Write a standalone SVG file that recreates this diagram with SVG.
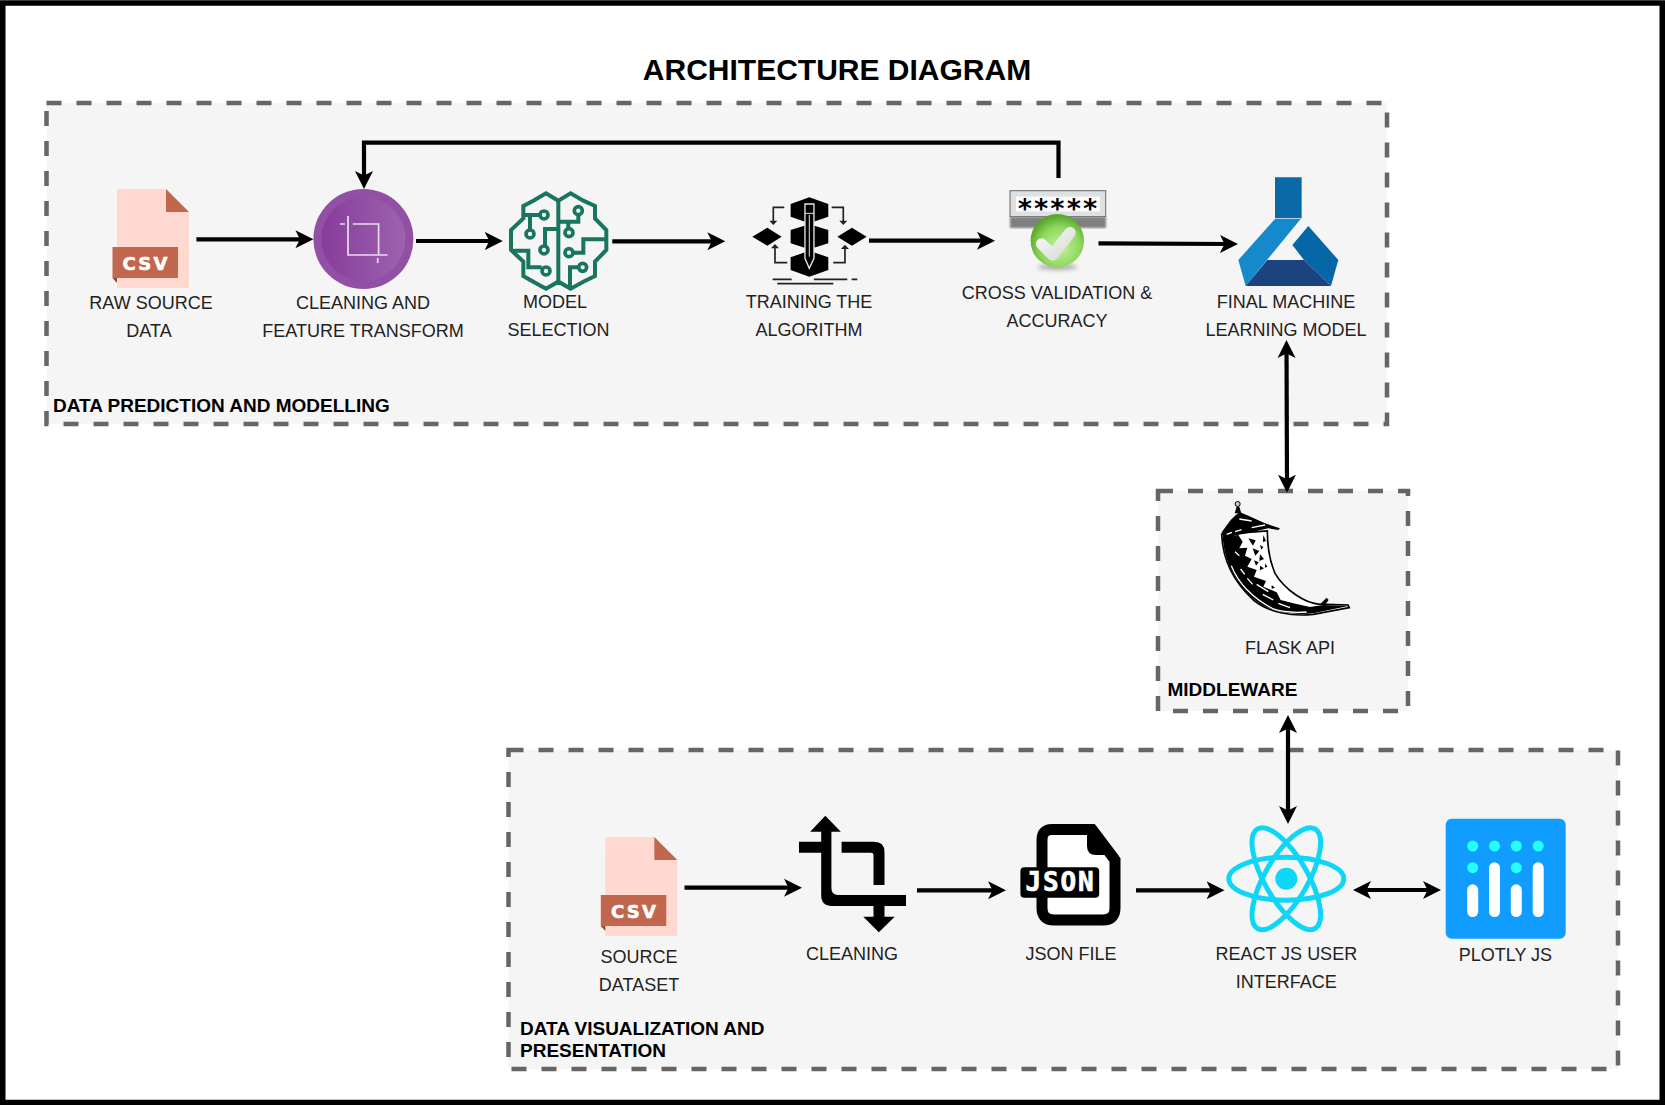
<svg xmlns="http://www.w3.org/2000/svg" width="1665" height="1105" viewBox="0 0 1665 1105">
<style>
.box{fill:#f5f5f5;stroke:#666;stroke-width:4.5;stroke-dasharray:15 15}
.lb{font-family:"Liberation Sans",Arial,sans-serif;font-size:18px;fill:#222;text-anchor:middle}
.hd{font-family:"Liberation Sans",Arial,sans-serif;font-size:19px;font-weight:bold;fill:#000}
.cn{fill:none;stroke:#000;stroke-width:4.2;marker-end:url(#ah)}
.bi{marker-start:url(#ah)}
.csvt{font-family:"DejaVu Sans",sans-serif;font-size:18px;font-weight:bold;fill:#fff;stroke:#fff;stroke-width:.6;text-anchor:middle;letter-spacing:2.2px}
.br{fill:none;stroke:#1a7560;stroke-width:12;stroke-linejoin:miter}
.nd{fill:#f5f5f5;stroke:#1a7560;stroke-width:11}
.thin{fill:none;stroke:#222;stroke-width:5}
.rk{fill:none;stroke:#0dd6f7;stroke-width:5}
.dot{fill:#25fefd}
.bar{fill:#fff}
</style>
<defs>
<marker id="ah" viewBox="0 0 20 20" markerWidth="20" markerHeight="20" refX="12" refY="10" markerUnits="userSpaceOnUse" orient="auto-start-reverse"><path d="M0 1L18 10L0 19L4.5 10Z" fill="#000"/></marker>
<g id="csvdoc">
<path d="M117 189H166L189 212V288H117Z" fill="#ffd9d0"/>
<path d="M166 189L189 212H166Z" fill="#c1674e"/>
<path d="M112.5 278L117 283V278Z" fill="#8c4a38"/>
<rect x="112.5" y="247" width="65.5" height="31" fill="#c1674e"/>
</g>
<radialGradient id="ball" cx="55%" cy="62%" r="58%"><stop offset="0" stop-color="#c4f2a0"/><stop offset=".65" stop-color="#8fd85f"/><stop offset="1" stop-color="#5aa92e"/></radialGradient>
<linearGradient id="purp" x1="0" x2="1"><stop offset="0" stop-color="#873c9a"/><stop offset="1" stop-color="#9e62af"/></linearGradient>
<linearGradient id="chk" x1="0" x2="1" y1="0" y2="1"><stop offset="0" stop-color="#f6f6f6"/><stop offset="1" stop-color="#d9ddd6"/></linearGradient>
<filter id="bl" x="-30%" y="-60%" width="160%" height="220%"><feGaussianBlur stdDeviation="2.2"/></filter>
<filter id="sf" x="-5%" y="-5%" width="110%" height="110%"><feGaussianBlur stdDeviation="1"/></filter>
</defs>
<rect width="1665" height="1105" fill="#fff"/>
<rect x="2.75" y="3" width="1659.5" height="1099.5" fill="none" stroke="#000" stroke-width="5.5"/>
<text id="title" x="837" y="80" font-family="'Liberation Sans',Arial,sans-serif" font-size="30" font-weight="bold" text-anchor="middle" fill="#000">ARCHITECTURE DIAGRAM</text>

<g id="box-modelling"><rect class="box" x="46.5" y="103" width="1340.5" height="321"/><text class="hd" x="53" y="412">DATA PREDICTION AND MODELLING</text></g>
<g id="box-middleware"><rect class="box" x="1158" y="491" width="250" height="220"/><text class="hd" x="1167.5" y="696">MIDDLEWARE</text></g>
<g id="box-visualization"><rect class="box" x="508.5" y="750" width="1109.5" height="319"/><text class="hd" x="520" y="1035">DATA VISUALIZATION AND</text><text class="hd" x="520" y="1057">PRESENTATION</text></g>

<g id="raw-source"><use href="#csvdoc"/><text class="csvt" x="146" y="269.5">CSV</text><text class="lb" x="151" y="309">RAW SOURCE</text><text class="lb" x="149" y="337">DATA</text></g>

<g id="cleaning-transform">
<circle cx="363.4" cy="239" r="50" fill="#9250a5"/><circle cx="363.4" cy="239" r="42" fill="url(#purp)"/>
<path d="M348 216V255H387.5M340 224H345M352.7 224H378.6V255M377.7 258V263" fill="none" stroke="#eadcf0" stroke-width="1.7"/>
<text class="lb" x="363" y="309">CLEANING AND</text><text class="lb" x="363" y="337">FEATURE TRANSFORM</text></g>

<g id="model-selection">
<g transform="translate(490 180) scale(.3333)">
<path class="br" d="M205 62L168 40L130 62L100 78V115L63 150V210L100 245V288L130 305L168 326L205 305L242 326L280 305L315 288V245L349 210V150L315 115V78L280 62L242 40Z"/>
<path class="br" d="M205 62V305M100 105H150M120 105V150M205 147H165V198M63 212H115V262H155M205 125H265V105M235 125V146M349 178H280V218H250M240 320V262H265"/>
<circle class="nd" cx="162" cy="105" r="12"/><circle class="nd" cx="120" cy="162" r="12"/><circle class="nd" cx="162" cy="210" r="12"/><circle class="nd" cx="168" cy="273" r="12"/><circle class="nd" cx="265" cy="92" r="12"/><circle class="nd" cx="237" cy="158" r="12"/><circle class="nd" cx="237" cy="218" r="12"/><circle class="nd" cx="278" cy="262" r="12"/>
</g>
<text class="lb" x="555" y="308">MODEL</text><text class="lb" x="558.5" y="336">SELECTION</text></g>

<g id="training">
<g transform="translate(490 180) scale(.3333)">
<path d="M958 52L1015 72V110L958 130L902 110V72ZM958 133L1015 150V190L958 208L902 190V150ZM958 212L1015 232V270L958 290L902 270V232ZM787 170L832 143L875 170L832 197ZM1042 170L1086 143L1130 170L1086 197Z" fill="#000"/>
<path d="M945 72H972V235L958 265L945 235Z" fill="#000" stroke="#e8e8e8" stroke-width="4"/>
<path d="M945 100H972M958 105V230" stroke="#e8e8e8" stroke-width="3" fill="none"/>
<path class="thin" d="M883 82H850V128M1025 82H1060V128M892 248H855V200M1030 248H1065V202"/>
<path d="M838 122H862L850 135ZM1048 122H1072L1060 135ZM843 205H867L855 192ZM1053 207H1077L1065 194Z" fill="#222"/>
<path d="M848 298H905M972 298H1072M1085 298H1102M862 311H1030" stroke="#222" stroke-width="5" fill="none"/>
</g>
<text class="lb" x="809" y="308">TRAINING THE</text><text class="lb" x="809" y="336">ALGORITHM</text></g>

<g id="cross-validation">
<rect x="1010" y="217" width="96" height="11" fill="#808080" filter="url(#sf)"/>
<rect x="1010" y="190.7" width="95.7" height="26" fill="#dde1e1" stroke="#666" stroke-width="1"/>
<rect x="1016" y="196.5" width="84" height="15" fill="#fbfbfb"/>
<text x="1057.5" y="217.5" font-family="'DejaVu Sans Mono',monospace" font-size="27" font-weight="bold" text-anchor="middle" fill="#000">*****</text>
<ellipse cx="1057.5" cy="267" rx="20" ry="3" fill="#aaa" filter="url(#bl)"/>
<circle cx="1057.3" cy="240.7" r="26.7" fill="url(#ball)"/>
<path d="M1041.7 244L1052.7 255L1070 232.7" fill="none" stroke="url(#chk)" stroke-width="11.5" stroke-linejoin="round" stroke-linecap="round"/>
<text class="lb" x="1057" y="299">CROSS VALIDATION &amp;</text><text class="lb" x="1057" y="327">ACCURACY</text></g>

<g id="final-model">
<g transform="translate(1230 170) scale(.3333)">
<path d="M135 22H215V145H135Z" fill="#0a6aa8"/>
<path d="M135 147H212L47 348L25 270Z" fill="#1689cc"/>
<path d="M235 168L325 270L303 348L222 270L187 225Z" fill="#0766a6"/>
<path d="M47 348L112 270H222L303 348Z" fill="#1a4380"/>
</g>
<text class="lb" x="1286" y="308">FINAL MACHINE</text><text class="lb" x="1286" y="336">LEARNING MODEL</text></g>

<g id="flask-api">
<g transform="translate(1210 495) scale(.3333)" filter="url(#sf)">
<path d="M35 118C38 190 70 260 130 315C180 355 250 365 310 358L418 338L414 330L350 328L330 328C285 325 225 285 195 235C178 195 172 150 172 108Z" fill="#fff" stroke="#000" stroke-width="5"/>
<path d="M38 125L85 120L98 140L88 160L112 158L105 182L125 192L112 215L140 225L132 245L168 258L160 275L200 292L212 315L250 325L300 336L340 330L415 333L310 355C250 362 180 352 130 312C70 258 42 190 38 125Z" fill="#000"/>
<path d="M64 212C85 265 130 310 190 342C220 352 260 353 290 351M140 268L175 290M158 298L190 315M75 170L88 182M92 222L104 238M112 250L128 268M205 325L240 338" fill="none" stroke="#fff" stroke-width="4"/>
<path d="M115 130l22 6l-8 16zM128 160l20 8l-12 14zM150 178l12 14l-14 6zM132 196l14 6l-8 10zM160 120l8 18l-9 3zM150 212l12 8l-12 6zM165 205l7 10l-7 3zM185 270l10 8l-10 3zM150 150l10 6l-6 8z" fill="#000"/>
<path d="M40 128L35 112L62 75L80 58L90 52L115 62L165 85L210 100L205 105L175 100L110 115Z" fill="#000"/>
<path d="M50 118L66 112M75 110L95 104M125 98L165 90M88 72L125 78" stroke="#fff" stroke-width="4" fill="none"/>
<path d="M74 55L80 35H88L94 55Z" fill="#000"/>
<circle cx="83" cy="27" r="7.5" fill="#ccc" stroke="#000" stroke-width="3"/>
<path d="M330 328L350 308L356 315L345 330Z" fill="#000"/>
</g>
<text class="lb" x="1290" y="654">FLASK API</text></g>

<g id="source-dataset"><use href="#csvdoc" transform="translate(488.3 648)"/><text class="csvt" x="634.5" y="917.5">CSV</text><text class="lb" x="639" y="962.5">SOURCE</text><text class="lb" x="639" y="990.5">DATASET</text></g>

<g id="cleaning">
<path d="M825.3 815.7L840.8 831.7H831.4V888Q831.4 895 838 895H906V906H832Q821.2 906 821.2 895V852.7H799V841.7H821.2V831.7H810.2ZM841.6 841.7H874Q884.5 841.7 884.5 852V885H873.5V855Q873.5 852.7 871 852.7H841.6ZM873.5 906H884.5V916.7H894.7L878.8 932.3L863.3 916.7H873.5Z" fill="#000"/>
<text class="lb" x="852" y="960">CLEANING</text></g>

<g id="json-file">
<path d="M1052 829.5H1092L1115 860V908Q1115 920 1103 920H1054Q1042 920 1042 908V840Q1042 829.5 1052 829.5Z" fill="#fff" stroke="#000" stroke-width="11"/>
<path d="M1087 826V846Q1087 855 1096 855H1118L1096 826Z" fill="#000"/>
<rect x="1020.4" y="867.3" width="78.8" height="30.4" rx="4" fill="#000"/>
<text x="1060.5" y="890.5" font-family="'DejaVu Sans Mono',monospace" font-size="26" font-weight="bold" letter-spacing="1.8" stroke="#fff" stroke-width=".7" text-anchor="middle" fill="#fff">JSON</text>
<text class="lb" x="1071" y="960">JSON FILE</text></g>

<g id="react-ui">
<ellipse class="rk" cx="1286.3" cy="878.7" rx="57.5" ry="21.5"/>
<ellipse class="rk" cx="1286.3" cy="878.7" rx="57.5" ry="21.5" transform="rotate(60 1286.3 878.7)"/>
<ellipse class="rk" cx="1286.3" cy="878.7" rx="57.5" ry="21.5" transform="rotate(-60 1286.3 878.7)"/>
<circle cx="1286.3" cy="878.7" r="11" fill="#0dd6f7"/>
<text class="lb" x="1286.3" y="960">REACT JS USER</text><text class="lb" x="1286.3" y="988">INTERFACE</text></g>

<g id="plotly-js">
<rect x="1445.7" y="818.7" width="120" height="120" rx="6" fill="#119dff"/>
<circle class="dot" cx="1472.7" cy="846" r="5.5"/><circle class="dot" cx="1494.5" cy="846" r="5.5"/><circle class="dot" cx="1516.3" cy="846" r="5.5"/><circle class="dot" cx="1538.2" cy="846" r="5.5"/><circle class="dot" cx="1472.7" cy="867.7" r="5.5"/><circle class="dot" cx="1516.3" cy="867.7" r="5.5"/>
<rect class="bar" x="1467.2" y="884.3" width="11" height="32.7" rx="5.5"/><rect class="bar" x="1489" y="862.3" width="11" height="54.7" rx="5.5"/><rect class="bar" x="1510.8" y="884.3" width="11" height="32.7" rx="5.5"/><rect class="bar" x="1532.7" y="862.3" width="11" height="54.7" rx="5.5"/>
<text class="lb" x="1505.4" y="961">PLOTLY JS</text></g>

<g id="connectors">
<path class="cn" d="M196.4 239.3H307.4"/>
<path class="cn" d="M416 241H496.8"/>
<path class="cn" d="M612.3 241.3H719.3"/>
<path class="cn" d="M869 240.7H989"/>
<path class="cn" d="M1098.5 243.3L1232 244"/>
<path class="cn" d="M1058.5 178V142.7H364V183"/>
<path class="cn bi" d="M1286.5 346L1287 486.7"/>
<path class="cn bi" d="M1288 721V818"/>
<path class="cn" d="M684.5 887.7H796"/>
<path class="cn" d="M917 890.3H1000"/>
<path class="cn" d="M1136 890.3H1218.5"/>
<path class="cn bi" d="M1359 890H1435"/>
</g>
</svg>
